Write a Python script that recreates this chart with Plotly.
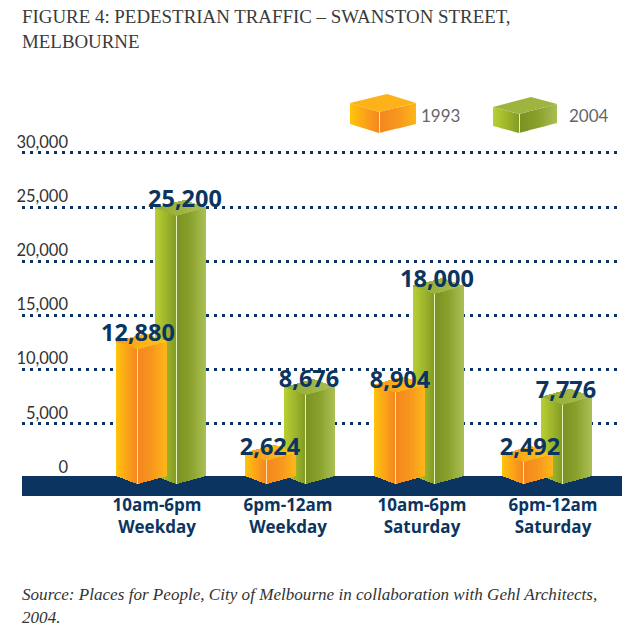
import numpy as np
import plotly.graph_objects as go

# ---- data ----
CATEGORIES = ["10am-6pm<br>Weekday", "6pm-12am<br>Weekday", "10am-6pm<br>Saturday", "6pm-12am<br>Saturday"]
VALUES_1993 = [12880, 2624, 8904, 2492]
VALUES_2004 = [25200, 8676, 18000, 7776]
TICK_VALUES = [0, 5000, 10000, 15000, 20000, 25000, 30000]
SERIES_NAMES = ["1993", "2004"]

TITLE = "FIGURE 4: PEDESTRIAN TRAFFIC – SWANSTON STREET,<br>MELBOURNE"
SOURCE_LINES = ["Source: Places for People, City of Melbourne in collaboration with Gehl Architects,", "2004."]

# ---- geometry (page is 625x628) ----
W, H = 625, 628
NAVY = "#0B3560"
ZERO_PX, PX_PER_5000 = 478.0, 54.2
PLOT_TOP, PLOT_BOTTOM, PLOT_LEFT, PLOT_RIGHT = 60, 496, 22, 622
UNIT = 5000 / PX_PER_5000  # value units per pixel


def v(py):
    """page pixel row -> value"""
    return (ZERO_PX - py) * UNIT


def lerp_colors(stops, t):
    stops = np.array(stops, float)
    pos = np.linspace(0, 1, len(stops))
    return [f"rgb({int(np.interp(x, pos, stops[:, 0]))},{int(np.interp(x, pos, stops[:, 1]))},{int(np.interp(x, pos, stops[:, 2]))})" for x in t]


ORANGE = dict(
    left=[(255, 197, 10), (252, 165, 25), (245, 135, 32)],
    right=[(245, 135, 32), (248, 150, 30), (253, 182, 24)],
    top=[(247, 150, 30), (252, 178, 24), (255, 196, 20)],
    edge=(255, 226, 170),
)
GREEN = dict(
    left=[(184, 208, 52), (160, 183, 44), (132, 155, 38)],
    right=[(122, 146, 36), (138, 161, 44), (170, 190, 84)],
    top=[(150, 174, 50), (158, 180, 64), (170, 192, 90)],
    edge=(232, 240, 190),
)

BAR_W, FRONT = 50, 21
GROUP_X = [162, 291, 420, 548]
OFFSET = {"1993": -45, "2004": -6}
LABEL_NUDGE_X = {"1993": [-4, -1, 0, 2], "2004": [4, -1, -2, -1]}
LABEL_LIFT_PX = {"1993": [3, 0, -1, 2], "2004": [4, 3, 2, 2]}
CATEGORY_NUDGE = [-5, -3, 2, 5]


def bar_traces(name, values, palette):
    """Builds the two visible side faces and the top face of every column as one-pixel strips."""
    xs, bases, heights, cols = [], [], [], []
    for group, value in zip(GROUP_X, values):
        left = group + OFFSET[name]
        for i in range(BAR_W):
            t = i + 0.5
            if t < FRONT:
                drop = 8 * t / FRONT
                c = lerp_colors(palette["left"], [t / FRONT])[0]
            else:
                drop = 8 * (BAR_W - t) / (BAR_W - FRONT)
                c = lerp_colors(palette["right"], [(t - FRONT) / (BAR_W - FRONT)])[0]
            if i == FRONT:
                c = "rgb(%d,%d,%d)" % palette["edge"]
            bottom = -(-2 + drop) * UNIT          # chevron foot over the band
            top = value - (3 + drop) * UNIT       # front edge of the top face
            xs.append(left + t)
            bases.append(bottom)
            heights.append(top - bottom)
            cols.append(c)
    sides = go.Bar(x=xs, y=heights, base=bases, width=1.02, marker=dict(color=cols, line_width=0),
                   name=name, showlegend=False, hoverinfo="skip")

    xs, bases, heights, cols = [], [], [], []
    back = BAR_W - FRONT
    for group, value in zip(GROUP_X, values):
        left = group + OFFSET[name]
        for i in range(BAR_W):
            t = i + 0.5
            lower = 3 + (8 * t / FRONT if t < FRONT else 8 * (BAR_W - t) / back)
            upper = 3 - (8 * t / back if t < back else 8 * (BAR_W - t) / FRONT)
            xs.append(left + t)
            bases.append(value - lower * UNIT)
            heights.append((lower - upper) * UNIT)
            cols.append(lerp_colors(palette["top"], [t / BAR_W])[0])
    top = go.Bar(x=xs, y=heights, base=bases, width=1.02, marker=dict(color=cols, line_width=0),
                 name=name, showlegend=False, hoverinfo="skip")
    return [sides, top]


fig = go.Figure()
# the 2004 columns stand behind the 1993 columns
fig.add_traces(bar_traces("2004", VALUES_2004, GREEN))
fig.add_traces(bar_traces("1993", VALUES_1993, ORANGE))

# value labels
for name, values in (("1993", VALUES_1993), ("2004", VALUES_2004)):
    fig.add_trace(go.Scatter(
        x=[g + OFFSET[name] + BAR_W / 2 + n for g, n in zip(GROUP_X, LABEL_NUDGE_X[name])],
        y=[val + lift * UNIT for val, lift in zip(values, LABEL_LIFT_PX[name])],
        mode="text",
        text=[f"{val:,}" for val in values],
        textposition="middle center",
        textfont=dict(family="Open Sans", size=23.5, color=NAVY, weight="bold"),
        cliponaxis=False, showlegend=False, hoverinfo="skip"))

shapes = [dict(type="rect", xref="x", yref="y", x0=PLOT_LEFT, x1=PLOT_RIGHT, y0=v(496), y1=v(476),
               fillcolor=NAVY, line_width=0, layer="between")]
annotations = []


def legend_box(x0, xf, x1, yl, yf, yr, h, pal):
    """small cuboid key drawn with strips, page-pixel geometry"""
    n = int(x1 - x0)
    for i in range(n):
        a, b = x0 + i, x0 + i + 1
        t = a + 0.5
        if t < xf:
            f = (t - x0) / (xf - x0)
            c = lerp_colors(pal["left"], [f])[0]
            top, topn = yl + (yf - yl) * (a - x0) / (xf - x0), yl + (yf - yl) * (b - x0) / (xf - x0)
        else:
            f = (t - xf) / (x1 - xf)
            c = lerp_colors(pal["right"], [f])[0]
            top, topn = yf + (yr - yf) * (a - xf) / (x1 - xf), yf + (yr - yf) * (b - xf) / (x1 - xf)
        if a == xf:
            c = "rgb(%d,%d,%d)" % pal["edge"]
        path = f"M{a},{v(top)} L{b},{v(topn)} L{b},{v(topn + h)} L{a},{v(top + h)} Z"
        shapes.append(dict(type="path", xref="x", yref="y", path=path, fillcolor=c, line_width=0))
    xb = x0 + x1 - xf
    yb = yl + yr - yf
    path = f"M{x0},{v(yl)} L{xf},{v(yf)} L{x1},{v(yr)} L{xb},{v(yb)} Z"
    shapes.append(dict(type="path", xref="x", yref="y", path=path, fillcolor="rgb(%d,%d,%d)" % tuple(pal["top"][1]), line_width=0))


legend_box(350, 379, 416, 103, 112, 103, 21, ORANGE)
legend_box(493, 519, 557, 107, 114, 104, 19, GREEN)
for name, xc in zip(SERIES_NAMES, (440, 589)):
    annotations.append(dict(xref="x", yref="y", x=xc, y=v(115), text=name, showarrow=False,
                            font=dict(family="Lato", size=17, color="#666668")))

for line, py in zip(SOURCE_LINES, (594, 617)):
    annotations.append(dict(xref="paper", x=0, xanchor="left", xshift=-2, yref="paper",
                            y=(PLOT_BOTTOM - py) / (PLOT_BOTTOM - PLOT_TOP), yanchor="middle",
                            text="<i>" + line + "</i>", showarrow=False,
                            font=dict(family="Liberation Serif", size=17.1, color="#333333")))

fig.update_layout(
    width=W, height=H, autosize=False,
    paper_bgcolor="white", plot_bgcolor="white",
    barmode="overlay", bargap=0,
    margin=dict(l=PLOT_LEFT, r=W - PLOT_RIGHT, t=PLOT_TOP, b=H - PLOT_BOTTOM, autoexpand=False),
    title=dict(text=TITLE, x=22 / W, xanchor="left", xref="container", y=1 - 23 / H, yanchor="middle", yref="container",
               font=dict(family="Liberation Serif", size=18.9, color="#3A3A3A")),
    xaxis=dict(range=[PLOT_LEFT, PLOT_RIGHT], showgrid=False, zeroline=False, showline=False,
               tickmode="array", tickvals=[g + n for g, n in zip(GROUP_X, CATEGORY_NUDGE)], ticktext=CATEGORIES, ticks="",
               ticklabelstandoff=-3,
               tickfont=dict(family="Open Sans", size=17, color=NAVY, weight="bold")),
    yaxis=dict(range=[v(PLOT_BOTTOM), v(PLOT_TOP)], anchor="free", position=(68 - PLOT_LEFT) / (PLOT_RIGHT - PLOT_LEFT),
               tickmode="array", tickvals=TICK_VALUES, ticktext=[f"{t:,}" for t in TICK_VALUES], ticks="",
               ticklabelshift=-11, ticklabelstandoff=0,
               tickfont=dict(family="Lato", size=16.5, color="#333333"),
               showgrid=True, gridcolor=NAVY, gridwidth=3, griddash="3px,5px",
               zeroline=False, showline=False),
    shapes=shapes, annotations=annotations,
)
fig.write_html("out.html", config={"displayModeBar": False}, post_script="document.body.style.margin='0';")
